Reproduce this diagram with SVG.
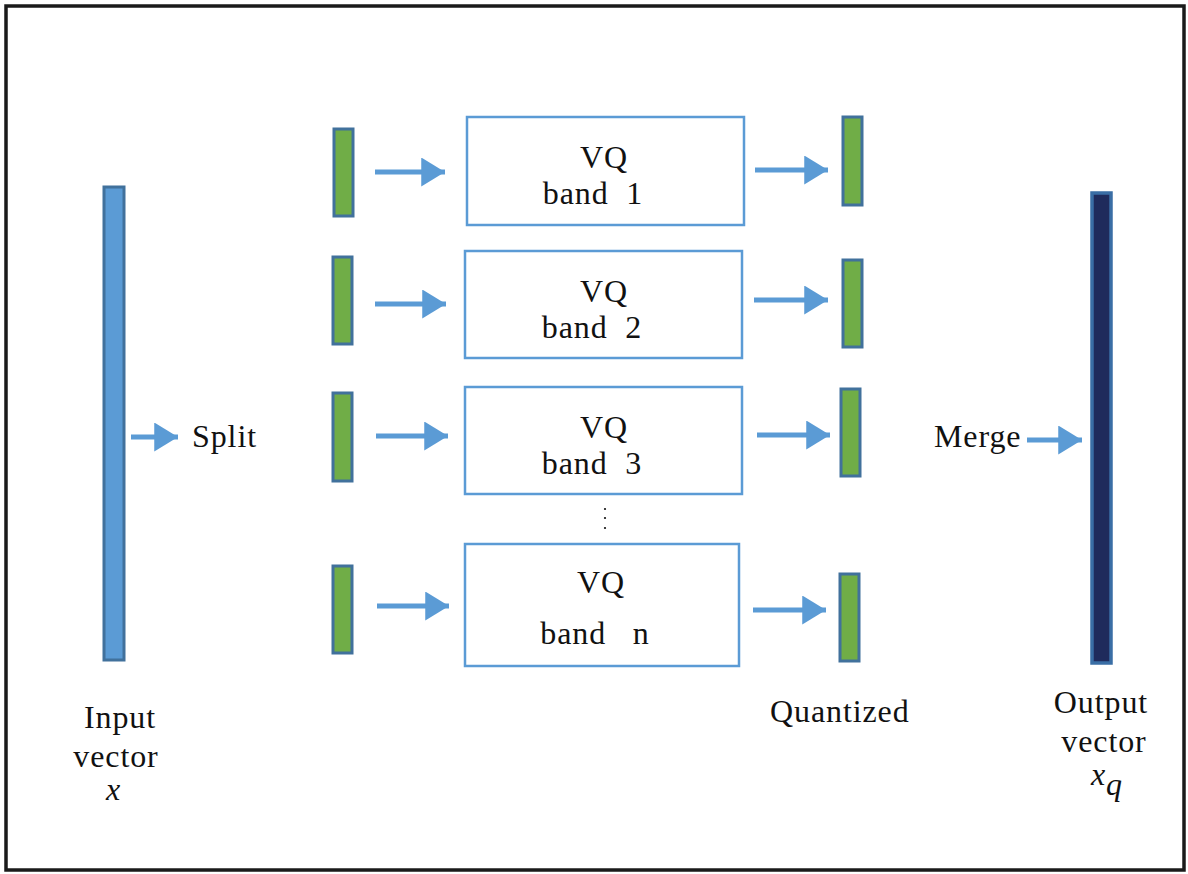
<svg xmlns="http://www.w3.org/2000/svg" width="1188" height="874" viewBox="0 0 1188 874">
  <defs>
    <marker id="head" viewBox="0 0 9 11" refX="9" refY="5.5" markerWidth="4.8" markerHeight="5.8" markerUnits="strokeWidth" orient="auto">
      <path d="M0,0 L9,5.5 L0,11 z" fill="#5b9bd5"/>
    </marker>
    <style>
      .txt { font-family: "Liberation Serif", "Times New Roman", serif; font-size: 32px; letter-spacing: 0.9px; fill: #111; white-space: pre; }
      .math { font-family: "Liberation Serif", "DejaVu Serif", serif; font-style: italic; font-size: 32px; fill: #111; }
      .box { fill: #ffffff; stroke: #5b9bd5; stroke-width: 2.5; }
      .band { fill: #70ad47; stroke: #41719c; stroke-width: 3; }
      .arrow { stroke: #5b9bd5; stroke-width: 5; fill: none; marker-end: url(#head); }
    </style>
  </defs>

  <rect x="0" y="0" width="1188" height="874" fill="#ffffff"/>
  <!-- outer frame -->
  <rect x="6" y="6" width="1178" height="864" fill="none" stroke="#1a1a1a" stroke-width="3.5"/>

  <!-- input vector -->
  <g id="input-vector">
    <rect x="104" y="187" width="20" height="473" fill="#5b9bd5" stroke="#41719c" stroke-width="3"/>
    <text class="txt" x="120" y="728" text-anchor="middle">Input</text>
    <text class="txt" x="116" y="767" text-anchor="middle">vector</text>
    <text class="math" x="113" y="800" text-anchor="middle">x</text>
  </g>

  <g id="split-label">
    <text class="txt" x="192" y="447">Split</text>
  </g>

  <!-- sub-vectors before quantization -->
  <g id="sub-1"><rect class="band" x="334" y="129" width="19" height="87"/></g>
  <g id="sub-2"><rect class="band" x="333" y="257" width="19" height="87"/></g>
  <g id="sub-3"><rect class="band" x="333" y="393" width="19" height="88"/></g>
  <g id="sub-n"><rect class="band" x="333" y="566" width="19" height="87"/></g>

  <!-- VQ blocks -->
  <g id="vq-1">
    <rect class="box" x="467" y="117" width="277" height="108"/>
    <text class="txt" x="604" y="168" text-anchor="middle">VQ</text>
    <text class="txt" x="593" y="204" text-anchor="middle">band  1</text>
  </g>
  <g id="vq-2">
    <rect class="box" x="465" y="251" width="277" height="107"/>
    <text class="txt" x="604" y="302" text-anchor="middle">VQ</text>
    <text class="txt" x="592" y="338" text-anchor="middle">band  2</text>
  </g>
  <g id="vq-3">
    <rect class="box" x="465" y="387" width="277" height="107"/>
    <text class="txt" x="604" y="438" text-anchor="middle">VQ</text>
    <text class="txt" x="592" y="474" text-anchor="middle">band  3</text>
  </g>
  <g id="ellipsis">
    <circle cx="605" cy="509" r="1.1" fill="#111"/>
    <circle cx="605" cy="518" r="1.1" fill="#111"/>
    <circle cx="605" cy="528" r="1.1" fill="#111"/>
  </g>
  <g id="vq-n">
    <rect class="box" x="465" y="544" width="274" height="122"/>
    <text class="txt" x="601" y="593" text-anchor="middle">VQ</text>
    <text class="txt" x="595" y="644" text-anchor="middle">band   n</text>
  </g>

  <!-- quantized sub-vectors -->
  <g id="q-1"><rect class="band" x="843" y="117" width="19" height="88"/></g>
  <g id="q-2"><rect class="band" x="843" y="260" width="19" height="87"/></g>
  <g id="q-3"><rect class="band" x="841" y="389" width="19" height="87"/></g>
  <g id="q-n"><rect class="band" x="840" y="574" width="19" height="87"/></g>
  <g id="quantized-label">
    <text class="txt" x="770" y="722">Quantized</text>
  </g>

  <g id="merge-label">
    <text class="txt" x="934" y="447">Merge</text>
  </g>

  <!-- output vector -->
  <g id="output-vector">
    <rect x="1092" y="193" width="19" height="470" fill="#1f2b5c" stroke="#3a6ea5" stroke-width="3.5"/>
    <text class="txt" x="1101" y="713" text-anchor="middle">Output</text>
    <text class="txt" x="1104" y="752" text-anchor="middle">vector</text>
    <text class="math" x="1091" y="785">x</text>
    <text class="math" x="1106" y="795" font-size="22">q</text>
  </g>

  <!-- connectors -->
  <g id="connectors">
    <line class="arrow" x1="131" y1="437" x2="178" y2="437"/>
    <line class="arrow" x1="375" y1="172" x2="445" y2="172"/>
    <line class="arrow" x1="375" y1="304" x2="446" y2="304"/>
    <line class="arrow" x1="376" y1="436" x2="448" y2="436"/>
    <line class="arrow" x1="377" y1="606" x2="449" y2="606"/>
    <line class="arrow" x1="755" y1="170" x2="828" y2="170"/>
    <line class="arrow" x1="754" y1="300" x2="828" y2="300"/>
    <line class="arrow" x1="757" y1="435" x2="830" y2="435"/>
    <line class="arrow" x1="753" y1="610" x2="826" y2="610"/>
    <line class="arrow" x1="1027" y1="440" x2="1082" y2="440"/>
  </g>
</svg>
